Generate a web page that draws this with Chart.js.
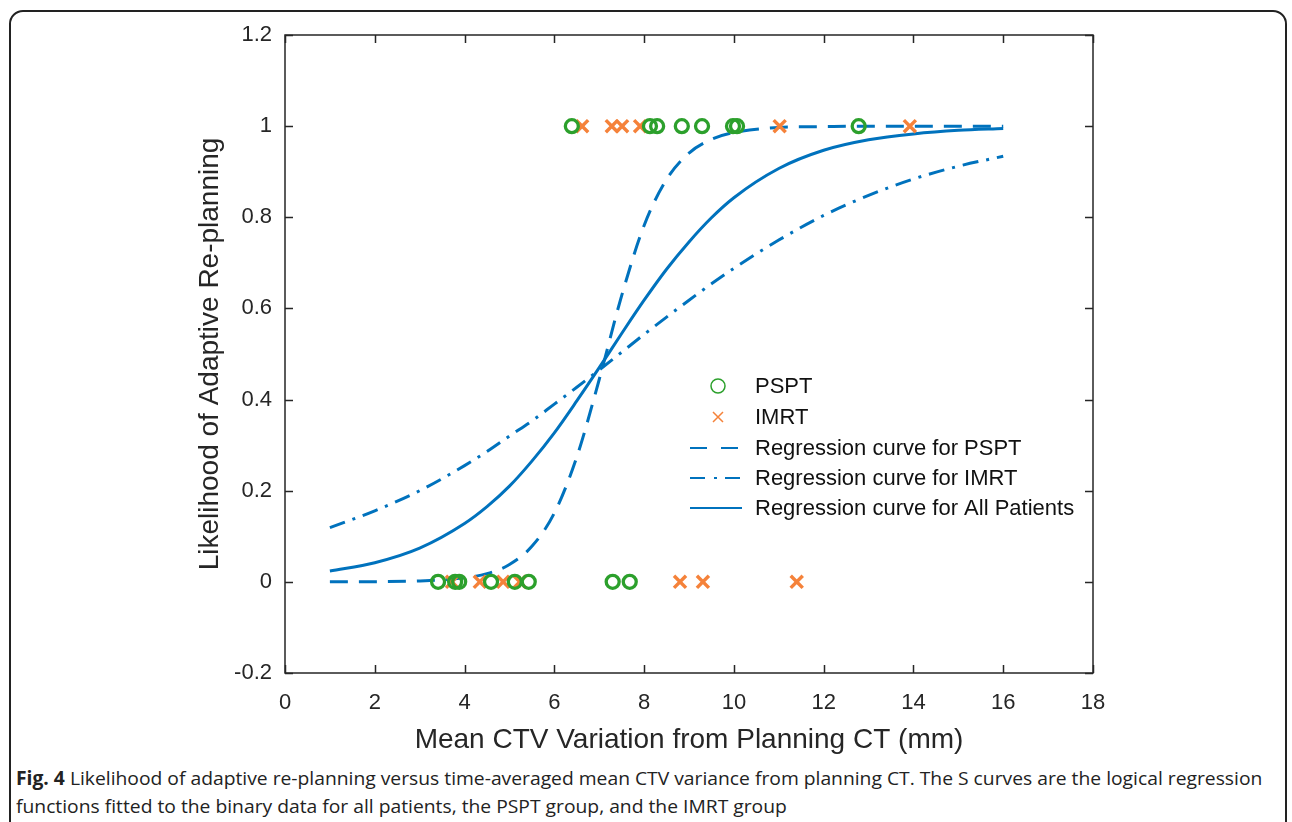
<!DOCTYPE html>
<html>
<head>
<meta charset="utf-8">
<title>Likelihood of adaptive re-planning</title>
<script src="https://cdn.jsdelivr.net/npm/chart.js@4.4.1/dist/chart.umd.min.js"></script>
<style>
  html, body { margin: 0; padding: 0; background: #fff; }
  body { width: 1292px; height: 822px; position: relative; overflow: hidden; }
  .frame {
    position: absolute; left: 9px; top: 10px; width: 1278px; height: 860px;
    border: 2px solid #222; border-radius: 14px; box-sizing: border-box;
  }
  #chart { position: absolute; left: 0; top: 0; }
  .caption {
    position: absolute; left: 16px; top: 764px;
    font-family: "Open Sans", "Noto Sans", sans-serif; font-size: 19px; line-height: 28px;
    color: #222; white-space: nowrap; transform-origin: 0 0;
  }
  .caption b { font-weight: 700; }
</style>
</head>
<body>
<div class="frame"></div>
<canvas id="chart" width="1292" height="760"></canvas>
<div class="caption" id="caption">
  <div id="capLine1"><b>Fig. 4</b> Likelihood of adaptive re-planning versus time-averaged mean CTV variance from planning CT. The S curves are the logical regression</div>
  <div id="capLine2">functions fitted to the binary data for all patients, the PSPT group, and the IMRT group</div>
</div>
<script>
// observed patients (x = mean CTV variation in mm, y = re-planned or not)
const psptX = [6.39, 8.13, 8.29, 8.84, 9.29, 9.98, 10.07, 12.78,
               3.41, 3.79, 3.88, 4.59, 5.12, 5.43, 7.30, 7.68];
const psptY = [1, 1, 1, 1, 1, 1, 1, 1,
               0, 0, 0, 0, 0, 0, 0, 0];

const imrtX = [6.62, 7.28, 7.51, 7.91, 11.02, 13.92,
               3.72, 4.34, 4.86, 5.23, 8.80, 9.31, 11.40];
const imrtY = [1, 1, 1, 1, 1, 1,
               0, 0, 0, 0, 0, 0, 0];

// fitted regression curves
const curveX   = [1, 2, 3, 4, 4.5, 5, 5.5, 6, 6.5, 7, 7.5, 8, 8.5, 9, 9.5, 10, 11, 12, 13, 14, 15, 16];
const fitPspt  = [0.0001, 0.0004, 0.002, 0.009, 0.018, 0.038, 0.078, 0.151, 0.274, 0.444, 0.628, 0.782,
                  0.883, 0.941, 0.971, 0.986, 0.997, 0.999, 1.0, 1.0, 1.0, 1.0];
const fitImrt  = [0.119, 0.156, 0.200, 0.255, 0.286, 0.320, 0.353, 0.390, 0.427, 0.465, 0.504, 0.543,
                  0.581, 0.618, 0.654, 0.688, 0.750, 0.804, 0.848, 0.884, 0.912, 0.934];
const fitAll   = [0.024, 0.042, 0.074, 0.128, 0.165, 0.210, 0.265, 0.327, 0.397, 0.470, 0.545, 0.618,
                  0.686, 0.746, 0.799, 0.843, 0.907, 0.947, 0.970, 0.983, 0.991, 0.995];

const seriesLabels = ['PSPT', 'IMRT', 'Regression curve for PSPT', 'Regression curve for IMRT', 'Regression curve for All Patients'];
const xTitle = 'Mean CTV Variation from Planning CT (mm)';
const yTitle = 'Likelihood of Adaptive Re-planning';

const GREEN = '#2ca02c';
const ORANGE = '#f5823a';
const BLUE = '#0072bd';
const INK = '#262626';
const FONT = '"Liberation Sans", Arial, sans-serif';

const toPoints = (xs, ys) => xs.map((x, i) => ({ x: x, y: ys[i] }));
// matlab style labels: 1 and 0 without decimals
const tickText = v => String(Math.round(v * 10) / 10);

// box round the axes with inward ticks on all four sides
const axesBox = {
  id: 'axesBox',
  afterDatasetsDraw(chart) {
    const { ctx, chartArea: a, scales } = chart;
    const len = 8;
    ctx.save();
    ctx.strokeStyle = INK;
    ctx.lineWidth = 1.5;
    ctx.strokeRect(a.left, a.top, a.right - a.left, a.bottom - a.top);
    ctx.beginPath();
    scales.x.ticks.forEach(t => {
      const px = Math.round(scales.x.getPixelForValue(t.value)) + 0.5;
      ctx.moveTo(px, a.bottom); ctx.lineTo(px, a.bottom - len);
      ctx.moveTo(px, a.top); ctx.lineTo(px, a.top + len);
    });
    scales.y.ticks.forEach(t => {
      const py = Math.round(scales.y.getPixelForValue(t.value)) + 0.5;
      ctx.moveTo(a.left, py); ctx.lineTo(a.left + len, py);
      ctx.moveTo(a.right, py); ctx.lineTo(a.right - len, py);
    });
    ctx.stroke();
    ctx.restore();
  },
  afterDraw(chart) {
    const { ctx, chartArea: a } = chart;
    ctx.save();
    ctx.fillStyle = INK;
    ctx.font = '28px ' + FONT;
    ctx.textAlign = 'center';
    ctx.textBaseline = 'middle';
    ctx.fillText(xTitle, (a.left + a.right) / 2, 740);
    ctx.translate(210, (a.top + a.bottom) / 2);
    ctx.rotate(-Math.PI / 2);
    ctx.fillText(yTitle, 0, 0);
    ctx.restore();
  }
};

// legend inside the axes, no box
const insideLegend = {
  id: 'insideLegend',
  afterDraw(chart) {
    const { ctx } = chart;
    const rows = [386, 417, 448, 478, 508];
    const sampleL = 690, sampleR = 742, textX = 755;
    ctx.save();
    chart.data.datasets.forEach((ds, i) => {
      const y = rows[i];
      ctx.strokeStyle = ds.borderColor;
      if (ds.showLine) {
        ctx.lineWidth = 2;
        ctx.setLineDash(ds.legendDash || []);
        ctx.beginPath();
        ctx.moveTo(sampleL, y); ctx.lineTo(sampleR, y);
        ctx.stroke();
        ctx.setLineDash([]);
      } else if (ds.pointStyle === 'circle') {
        ctx.lineWidth = 1.5;
        ctx.beginPath();
        ctx.arc(718, y, 7, 0, Math.PI * 2);
        ctx.stroke();
      } else {
        ctx.lineWidth = 1.5;
        ctx.beginPath();
        ctx.moveTo(713, y - 5); ctx.lineTo(723, y + 5);
        ctx.moveTo(723, y - 5); ctx.lineTo(713, y + 5);
        ctx.stroke();
      }
      ctx.fillStyle = '#111';
      ctx.font = '22px ' + FONT;
      ctx.textAlign = 'left';
      ctx.textBaseline = 'middle';
      ctx.fillText(ds.label, textX, y + 1);
    });
    ctx.restore();
  }
};

const lineSet = (label, ys, dash, legendDash) => ({
  label: label,
  data: toPoints(curveX, ys),
  showLine: true,
  borderColor: BLUE,
  backgroundColor: BLUE,
  borderWidth: 3,
  borderDash: dash,
  legendDash: legendDash,
  pointRadius: 0,
  cubicInterpolationMode: 'monotone',
  fill: false
});

new Chart(document.getElementById('chart').getContext('2d'), {
  type: 'scatter',
  data: {
    datasets: [
      {
        label: seriesLabels[0],
        data: toPoints(psptX, psptY),
        pointStyle: 'circle',
        pointRadius: 6.5,
        borderWidth: 3.3,
        borderColor: GREEN,
        backgroundColor: 'rgba(0,0,0,0)'
      },
      {
        label: seriesLabels[1],
        data: toPoints(imrtX, imrtY),
        pointStyle: 'crossRot',
        pointRadius: 8.5,
        borderWidth: 3.5,
        borderColor: ORANGE,
        backgroundColor: ORANGE
      },
      lineSet(seriesLabels[2], fitPspt, [18, 11], [17, 14]),
      lineSet(seriesLabels[3], fitImrt, [16, 8, 3, 8], [15, 9, 3, 8]),
      lineSet(seriesLabels[4], fitAll, [], [])
    ]
  },
  options: {
    responsive: false,
    animation: false,
    layout: { padding: { left: 0, top: 35, right: 199, bottom: 0 } },
    plugins: {
      legend: { display: false },
      tooltip: { enabled: false }
    },
    scales: {
      x: {
        type: 'linear',
        min: 0, max: 18,
        grid: { display: false, drawTicks: false },
        border: { display: false },
        ticks: { stepSize: 2, padding: 17, color: INK, font: { size: 22, family: FONT }, callback: tickText },
        afterFit(scale) { scale.height = 87; }
      },
      y: {
        type: 'linear',
        min: -0.2, max: 1.2,
        grid: { display: false, drawTicks: false },
        border: { display: false },
        ticks: { stepSize: 0.2, padding: 13, color: INK, font: { size: 22, family: FONT }, callback: tickText },
        afterFit(scale) { scale.width = 285; }
      }
    }
  },
  plugins: [axesBox, insideLegend]
});

// stretch the caption to the width of the printed lines
const cap = document.getElementById('caption');
const w1 = document.getElementById('capLine1').scrollWidth;
cap.style.transform = 'scaleX(' + (1246 / w1) + ')';
</script>
</body>
</html>
